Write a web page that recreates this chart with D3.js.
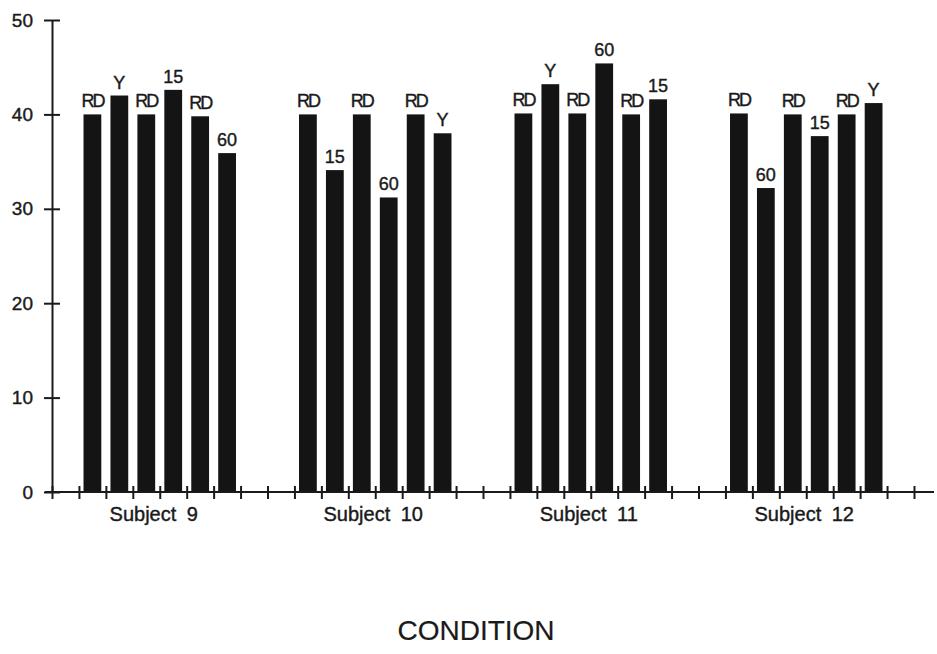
<!DOCTYPE html>
<html>
<head>
<meta charset="utf-8">
<script src="https://cdn.jsdelivr.net/npm/d3@7"></script>
<style>
  body { margin: 0; background: #fff; }
  svg text { font-family: "Liberation Sans", Arial, Helvetica, sans-serif; fill: #1a1a1a; stroke: #1a1a1a; stroke-width: 0.4px; }
</style>
</head>
<body>
<div id="chart"></div>
<script>
// data
const subjects = ["Subject 9", "Subject 10", "Subject 11", "Subject 12"];
const conditions = [
  ["RD", "Y", "RD", "15", "RD", "60"],
  ["RD", "15", "RD", "60", "RD", "Y"],
  ["RD", "Y", "RD", "60", "RD", "15"],
  ["RD", "60", "RD", "15", "RD", "Y"]
];
const values = [
  [40, 42, 40, 42.6, 39.8, 35.9],
  [40, 34.1, 40, 31.2, 40, 38],
  [40.1, 43.2, 40.1, 45.4, 40, 41.6],
  [40.1, 32.2, 40, 37.7, 40, 41.2]
];
const yTickValues = [0, 10, 20, 30, 40, 50];
const xTitle = "CONDITION";

const width = 937, height = 654;
const marginLeft = 52, plotRight = 914, plotTop = 20, plotBottom = 492;
const slots = 32, groupStep = 8;

const svg = d3.select('#chart').append('svg')
  .attr('width', width)
  .attr('height', height);

const x = d3.scaleLinear().domain([0, slots]).range([marginLeft, plotRight]);
const y = d3.scaleLinear().domain([0, 50]).range([plotBottom, plotTop]);

const slotW = x(1) - x(0);
const barW = slotW * 0.66;

// flatten into bar records
const bars = [];
values.forEach((row, g) => {
  row.forEach((v, i) => {
    bars.push({ slot: 1 + g * groupStep + i, value: v, label: conditions[g][i] });
  });
});

svg.append('g').selectAll('rect')
  .data(bars)
  .enter().append('rect')
    .attr('x', d => x(d.slot) + (slotW - barW) / 2)
    .attr('y', d => y(d.value))
    .attr('width', barW)
    .attr('height', d => y(0) - y(d.value))
    .attr('fill', '#141414');

svg.append('g').selectAll('text')
  .data(bars)
  .enter().append('text')
    .attr('x', d => x(d.slot) + slotW / 2)
    .attr('y', d => y(d.value) - 7)
    .attr('text-anchor', 'middle')
    .attr('font-size', 18)
    .attr('letter-spacing', d => d.label === 'RD' ? -2 : 0)
    .text(d => d.label);

// y axis
const yAxis = svg.append('g')
  .attr('transform', `translate(${marginLeft},0)`)
  .call(d3.axisLeft(y).tickValues(yTickValues).tickSize(7).tickSizeOuter(0).tickPadding(12));
yAxis.select('.domain').attr('stroke', '#1a1a1a').attr('stroke-width', 2);
yAxis.selectAll('.tick line').attr('x1', -8).attr('x2', 8).attr('stroke', '#1a1a1a').attr('stroke-width', 2);
yAxis.selectAll('.tick text')
  .attr('font-size', 19)
  .attr('x', -19);

// x axis
const xAxis = svg.append('g')
  .attr('transform', `translate(0,${plotBottom})`)
  .call(d3.axisBottom(x).tickValues(d3.range(slots + 1)).tickFormat('').tickSizeOuter(0));
xAxis.select('.domain').remove();
xAxis.append('line')
  .attr('x1', marginLeft - 7).attr('x2', 934)
  .attr('stroke', '#1a1a1a').attr('stroke-width', 2);
xAxis.selectAll('.tick line').attr('y1', -6).attr('y2', 7).attr('stroke', '#1a1a1a').attr('stroke-width', 2);

// subject labels
svg.append('g').selectAll('text')
  .data(subjects)
  .enter().append('text')
    .attr('x', (d, g) => x(1 + g * groupStep + 3) - (g === 0 ? 6 : 2))
    .attr('y', 521)
    .attr('text-anchor', 'middle')
    .attr('font-size', 20)
    .attr('word-spacing', 5)
    .text(d => d);

svg.append('text')
  .attr('x', 476)
  .attr('y', 640)
  .attr('text-anchor', 'middle')
  .attr('font-size', 28)
  .style('stroke-width', '0.2px')
  .text(xTitle);
</script>
</body>
</html>
